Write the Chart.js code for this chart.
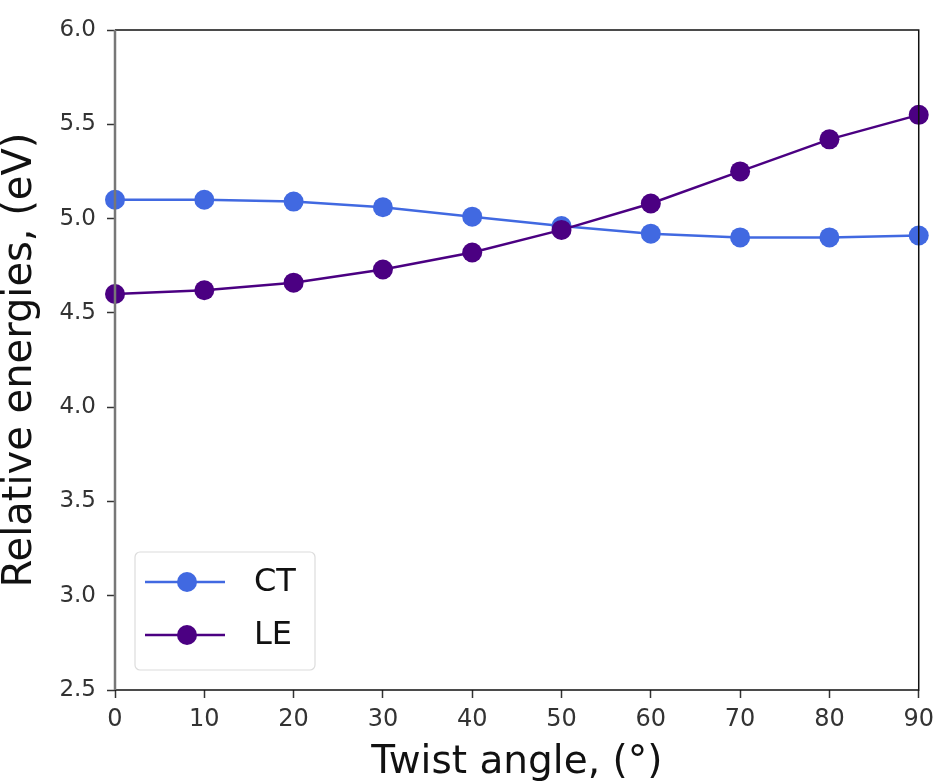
<!DOCTYPE html>
<html>
<head>
<meta charset="utf-8">
<script src="https://cdn.jsdelivr.net/npm/chart.js@4.4.1/dist/chart.umd.min.js"></script>
<style>
  html, body { margin: 0; padding: 0; background: #fff; }
  #wrap { width: 941px; height: 782px; }
</style>
</head>
<body>
<div id="wrap"><canvas id="energy-chart"></canvas></div>
<script>
const angles   = [0, 10, 20, 30, 40, 50, 60, 70, 80, 90];
const ctVals   = [5.10, 5.10, 5.09, 5.06, 5.01, 4.96, 4.92, 4.90, 4.90, 4.91];
const leVals   = [4.60, 4.62, 4.66, 4.73, 4.82, 4.94, 5.08, 5.25, 5.42, 5.55];
const seriesNames = ['CT', 'LE'];
const seriesColors = ['#4169E1', '#4B0082'];

const font = 'DejaVu Sans';

const toPoints = vals => angles.map((a, i) => ({ x: a, y: vals[i] }));

// frame + legend drawn inside the plot, matplotlib style
const framePlugin = {
    id: 'frame',
    afterDraw(chart) {
        const c = chart.ctx;
        const a = chart.chartArea;
        c.save();
        c.strokeStyle = '#111';
        c.lineWidth = 1.5;
        c.beginPath();
        c.moveTo(a.left, a.top);
        c.lineTo(a.right, a.top);
        c.lineTo(a.right, a.bottom);
        c.lineTo(a.left, a.bottom);
        c.stroke();
        c.strokeStyle = '#777';
        c.lineWidth = 2.5;
        c.beginPath();
        c.moveTo(a.left, a.top);
        c.lineTo(a.left, a.bottom);
        c.stroke();

        // legend box
        const bx = a.left + 20, by = 552, bw = 180, bh = 118;
        c.fillStyle = 'rgba(255,255,255,0.8)';
        c.strokeStyle = '#dcdcdc';
        c.lineWidth = 1.2;
        c.beginPath();
        c.roundRect(bx, by, bw, bh, 5);
        c.fill();
        c.stroke();
        chart.data.datasets.forEach((ds, i) => {
            const y = by + 30 + i * 53;
            c.strokeStyle = ds.borderColor;
            c.lineWidth = 2.5;
            c.beginPath();
            c.moveTo(bx + 10, y);
            c.lineTo(bx + 90, y);
            c.stroke();
            c.fillStyle = ds.backgroundColor;
            c.beginPath();
            c.arc(bx + 52, y, 10, 0, Math.PI * 2);
            c.fill();
            c.fillStyle = '#111';
            c.font = '32px "' + font + '"';
            c.textBaseline = 'middle';
            c.textAlign = 'left';
            c.fillText(ds.label, bx + 119, y + 1);
        });
        c.restore();
    }
};

new Chart(document.getElementById('energy-chart'), {
    type: 'line',
    data: {
        datasets: [
            {
                label: seriesNames[0],
                data: toPoints(ctVals),
                borderColor: seriesColors[0],
                backgroundColor: seriesColors[0],
                borderWidth: 2.5,
                pointRadius: 10,
                pointHoverRadius: 10,
                pointBorderWidth: 0,
                clip: false,
                order: 1
            },
            {
                label: seriesNames[1],
                data: toPoints(leVals),
                borderColor: seriesColors[1],
                backgroundColor: seriesColors[1],
                borderWidth: 2.5,
                pointRadius: 10,
                pointHoverRadius: 10,
                pointBorderWidth: 0,
                clip: false,
                order: 0
            }
        ]
    },
    options: {
        responsive: true,
        maintainAspectRatio: false,
        animation: false,
        layout: { padding: { top: 30, right: 21, left: 0, bottom: 0 } },
        plugins: {
            legend: { display: false },
            tooltip: { enabled: false }
        },
        scales: {
            x: {
                type: 'linear',
                min: 0,
                max: 90,
                border: { display: false },
                grid: { drawOnChartArea: false, drawTicks: true, tickLength: 8, color: '#333', tickWidth: 1.5 },
                ticks: { stepSize: 10, padding: 7, color: '#333', font: { family: font, size: 24 } },
                title: {
                    display: true,
                    text: 'Twist angle, (°)',
                    color: '#111',
                    font: { family: font, size: 39, lineHeight: 1 },
                    padding: { top: 0, bottom: 0 }
                },
                afterFit: s => { s.height = 92; }
            },
            y: {
                min: 2.5,
                max: 6.0,
                border: { display: false },
                grid: { drawOnChartArea: false, drawTicks: true, tickLength: 8, color: '#333', tickWidth: 1.5 },
                ticks: {
                    stepSize: 0.5,
                    padding: 11,
                    color: '#333',
                    font: { family: font, size: 23 },
                    callback: v => v.toFixed(1)
                },
                title: {
                    display: true,
                    text: 'Relative energies, (eV)',
                    color: '#111',
                    font: { family: font, size: 40, lineHeight: 1 },
                    padding: { top: 1, bottom: 0 }
                },
                afterFit: s => { s.width = 115; }
            }
        }
    },
    plugins: [framePlugin]
});
</script>
</body>
</html>
